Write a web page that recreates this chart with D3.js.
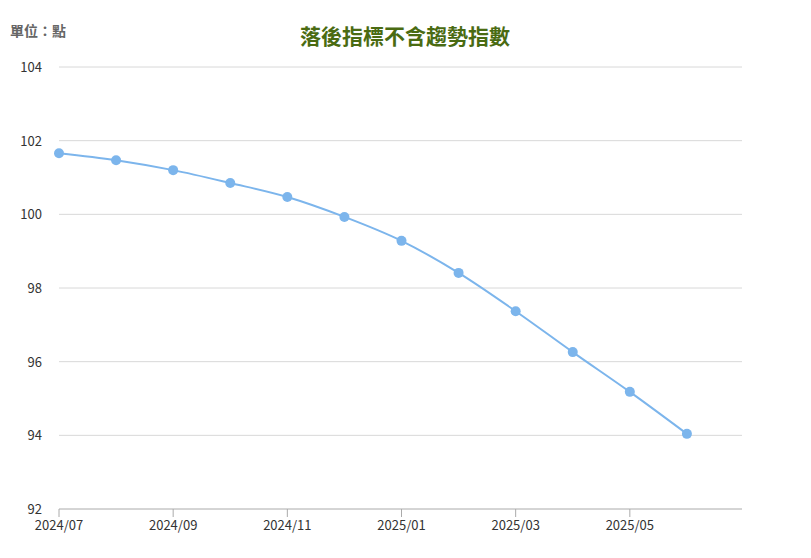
<!DOCTYPE html>
<html><head><meta charset="utf-8">
<script src="https://cdn.jsdelivr.net/npm/d3@7"></script>
<style>body{margin:0;background:#fff;font-family:"Noto Sans CJK TC","Noto Sans",sans-serif}</style>
</head><body><div id="chart"></div>
<script>
const months = ["2024/07","2024/08","2024/09","2024/10","2024/11","2024/12","2025/01","2025/02","2025/03","2025/04","2025/05","2025/06"];
const values = [101.66,101.47,101.20,100.85,100.47,99.93,99.28,98.41,97.37,96.26,95.18,94.04];
const yTicks = [92,94,96,98,100,102,104];
const xTickIdx = [0,2,4,6,8,10];

const W = 811, H = 558;
const margin = {top: 67, right: 69, bottom: 49, left: 59};
const width = W - margin.left - margin.right;
const height = H - margin.top - margin.bottom;

const svg = d3.select("#chart").append("svg").attr("width", W).attr("height", H);
const g = svg.append("g").attr("transform", "translate(" + margin.left + "," + margin.top + ")");

const x = d3.scaleLinear().domain([0, 12]).range([0, width + 2]);
const y = d3.scaleLinear().domain([92, 104]).range([height, 0]);

// grid
g.selectAll(".grid").data(yTicks.filter(d => d > 92)).enter().append("line")
  .attr("x1", 0).attr("x2", width)
  .attr("y1", d => y(d)).attr("y2", d => y(d))
  .attr("stroke", "#d8d8d8");

g.selectAll(".ylab").data(yTicks).enter().append("text")
  .attr("x", -17).attr("y", d => y(d) + 5)
  .attr("text-anchor", "end").attr("font-size", 13).attr("fill", "#333")
  .text(d => d);

// x axis
g.append("line").attr("x1", 0).attr("x2", width).attr("y1", height).attr("y2", height).attr("stroke", "#aaa");
g.selectAll(".xt").data(xTickIdx).enter().append("line")
  .attr("x1", d => x(d)).attr("x2", d => x(d)).attr("y1", height).attr("y2", height + 8)
  .attr("stroke", "#aaa");
g.selectAll(".xlab").data(xTickIdx).enter().append("text")
  .attr("x", d => x(d)).attr("y", height + 21)
  .attr("text-anchor", "middle").attr("font-size", 13).attr("fill", "#333")
  .text(d => months[d]);

const line = d3.line().x((d, i) => x(i)).y(d => y(d)).curve(d3.curveMonotoneX);
g.append("path").datum(values).attr("d", line)
  .attr("fill", "none").attr("stroke", "#7cb5ec").attr("stroke-width", 2);
g.selectAll(".pt").data(values).enter().append("circle")
  .attr("cx", (d, i) => x(i)).attr("cy", d => y(d)).attr("r", 5)
  .attr("fill", "#7cb5ec");

svg.append("text").attr("x", 405).attr("y", 44).attr("text-anchor", "middle")
  .attr("font-size", 21).attr("font-weight", "bold").attr("fill", "#4a6b12")
  .text("落後指標不含趨勢指數");
svg.append("text").attr("x", 10).attr("y", 36)
  .attr("font-size", 14).attr("font-weight", "bold").attr("fill", "#666")
  .text("單位：點");
</script></body></html>
